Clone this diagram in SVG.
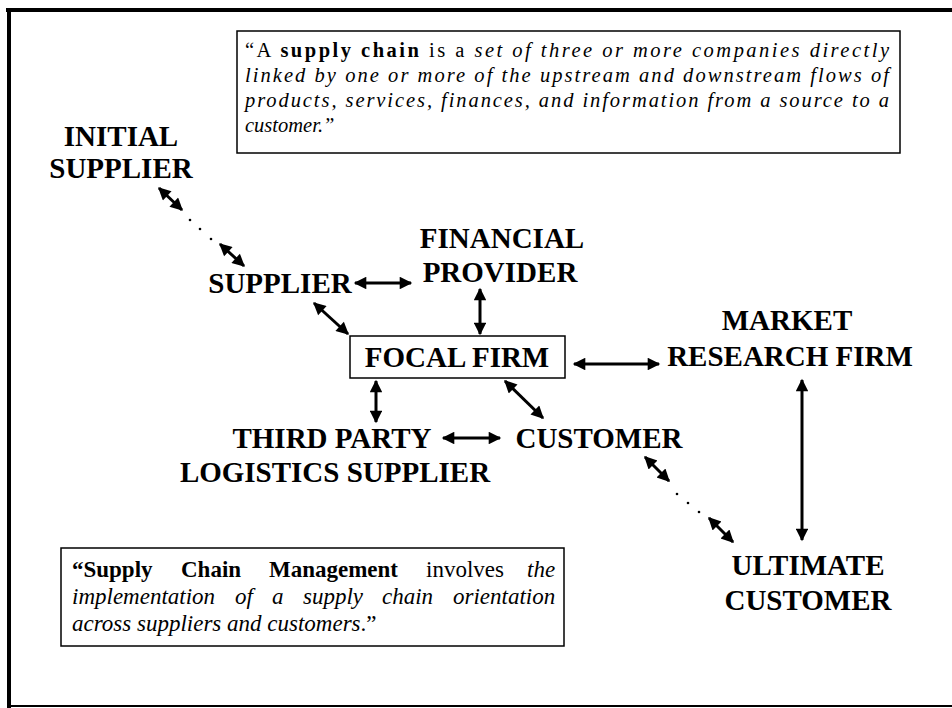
<svg xmlns="http://www.w3.org/2000/svg" width="952" height="708" viewBox="0 0 952 708">
<style>
.lbl{font-family:"Liberation Serif","Times New Roman",serif;font-weight:bold;font-size:29px;fill:#000;text-anchor:middle}
.q{font-family:"Liberation Serif","Times New Roman",serif;font-size:20.5px;fill:#000}
.qs{font-family:"Liberation Serif","Times New Roman",serif;font-size:23px;fill:#000}
.i{font-style:italic}
.b{font-weight:bold}
.box{fill:#fff;stroke:#000;stroke-width:1.5}
.arr{stroke:#000;stroke-width:3;fill:none;marker-start:url(#ah);marker-end:url(#ah)}
.dot{fill:#000}
</style>
<defs>
<marker id="ah" viewBox="0 0 10 10" refX="9" refY="5" markerWidth="4.8" markerHeight="4.2" orient="auto-start-reverse" markerUnits="strokeWidth">
<path d="M0,0 L10,5 L0,10 Z" fill="#000"/>
</marker>
</defs>
<rect width="952" height="708" fill="#fff"/>
<g id="frame">
<line x1="6" y1="10" x2="952" y2="10" stroke="#000" stroke-width="4"/>
<line x1="9" y1="8" x2="9" y2="708" stroke="#000" stroke-width="4"/>
<line x1="7" y1="706" x2="952" y2="706" stroke="#000" stroke-width="2"/>
</g>
<g id="definition-box">
<rect class="box" x="237" y="31" width="663" height="122"/>
<text class="q" x="245" y="57" textLength="644" lengthAdjust="spacing">“A <tspan class="b">supply chain</tspan> is a <tspan class="i">set of three or more companies directly</tspan></text>
<text class="q i" x="245" y="82" textLength="644" lengthAdjust="spacing">linked by one or more of the upstream and downstream flows of</text>
<text class="q i" x="245" y="107" textLength="644" lengthAdjust="spacing">products, services, finances, and information from a source to a</text>
<text class="q i" x="245" y="132">customer.”</text>
</g>
<g id="scm-box">
<rect class="box" x="61" y="548" width="503" height="98"/>
<text class="qs" y="577"><tspan class="b" x="72">“Supply</tspan><tspan class="b" x="181">Chain</tspan><tspan class="b" x="269">Management</tspan><tspan x="426">involves</tspan><tspan class="i" x="527">the</tspan></text>
<text class="qs i" y="604"><tspan x="72">implementation</tspan><tspan x="235">of</tspan><tspan x="272">a</tspan><tspan x="303">supply</tspan><tspan x="382">chain</tspan><tspan x="453">orientation</tspan></text>
<text class="qs" x="72" y="631"><tspan class="i">across suppliers and customers</tspan>.”</text>
</g>
<g id="initial-supplier">
<text class="lbl" x="121" y="146">INITIAL</text>
<text class="lbl" x="121" y="178">SUPPLIER</text>
</g>
<g id="supplier">
<text class="lbl" x="280" y="293">SUPPLIER</text>
</g>
<g id="financial-provider">
<text class="lbl" x="502" y="248">FINANCIAL</text>
<text class="lbl" x="500" y="282">PROVIDER</text>
</g>
<g id="focal-firm">
<rect class="box" x="350" y="336" width="215" height="42" stroke-width="2"/>
<text class="lbl" x="457" y="367">FOCAL FIRM</text>
</g>
<g id="market-research-firm">
<text class="lbl" x="787" y="330">MARKET</text>
<text class="lbl" x="790" y="366">RESEARCH FIRM</text>
</g>
<g id="third-party">
<text class="lbl" x="332" y="448">THIRD PARTY</text>
<text class="lbl" x="335" y="482">LOGISTICS SUPPLIER</text>
</g>
<g id="customer">
<text class="lbl" x="599" y="448">CUSTOMER</text>
</g>
<g id="ultimate-customer">
<text class="lbl" x="808" y="575">ULTIMATE</text>
<text class="lbl" x="808" y="610">CUSTOMER</text>
</g>
<g id="connectors">
<line class="arr" x1="159" y1="188" x2="182" y2="210"/>
<circle class="dot" cx="190" cy="220" r="1.3"/>
<circle class="dot" cx="200" cy="229" r="1.3"/>
<circle class="dot" cx="211" cy="239" r="1.3"/>
<line class="arr" x1="220" y1="244" x2="244" y2="266"/>
<line class="arr" x1="355" y1="283" x2="411" y2="283"/>
<line class="arr" x1="314" y1="303" x2="348" y2="334"/>
<line class="arr" x1="480" y1="289" x2="480" y2="334"/>
<line class="arr" x1="574" y1="364" x2="659" y2="364"/>
<line class="arr" x1="376" y1="381" x2="376" y2="422"/>
<line class="arr" x1="505" y1="381" x2="543" y2="418"/>
<line class="arr" x1="443" y1="438" x2="500" y2="438"/>
<line class="arr" x1="802" y1="380" x2="802" y2="540"/>
<line class="arr" x1="645" y1="457" x2="669" y2="481"/>
<circle class="dot" cx="677" cy="494" r="1.3"/>
<circle class="dot" cx="688" cy="503" r="1.3"/>
<circle class="dot" cx="699" cy="512" r="1.3"/>
<line class="arr" x1="709" y1="518" x2="733" y2="542"/>
</g>
</svg>
